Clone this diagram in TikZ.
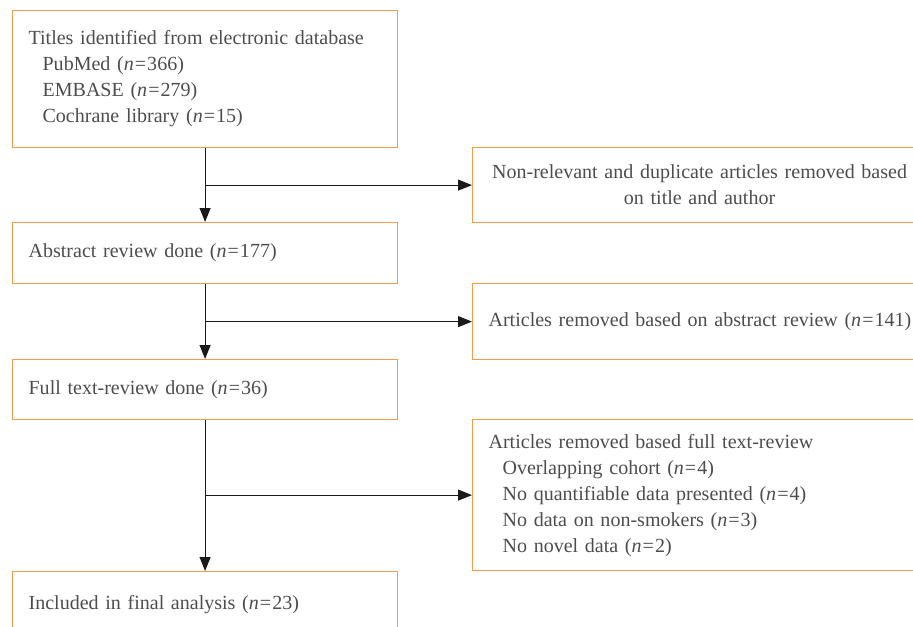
\documentclass[tikz,border=0pt]{standalone}
\usepackage{fontspec}
\setmainfont{Liberation Serif}
\usepackage{tikz}
\usepackage{xcolor}
\usetikzlibrary{arrows.meta,positioning,calc}
\definecolor{boxorange}{HTML}{F39C4E}
\definecolor{textgray}{HTML}{4D4D4D}
\definecolor{ink}{HTML}{1A1A1A}
\newcommand{\nn}[1]{(\textit{n}\kern0.6pt=\kern0.6pt#1)}
\newcommand{\sub}{\hspace*{0.28cm}}
\tikzset{
  flowcard/.style={
    draw=boxorange, line width=0.7pt, rectangle, anchor=north west,
    inner xsep=0.32cm, inner ysep=0pt, align=left, text=textgray,
    font=\fontsize{11.4}{14.8}\selectfont
  },
  leftcard/.style={flowcard, text width=7.06cm},
  sidecard/.style={flowcard, text width=9.4cm},
  flowarrow/.style={draw=ink, line width=0.55pt, -{Triangle[length=0.28cm,width=0.22cm]}}
}

\begin{document}
\begin{tikzpicture}[x=0.02cm,y=-0.02cm]
  \useasboundingbox (0,0) rectangle (913,626);
  \clip (0,0) rectangle (913,626);
  % main column
  \node[leftcard, minimum height=2.74cm] (titles) at (12,10) {%
    Titles identified from electronic database\\
    \sub PubMed \nn{366}\\
    \sub EMBASE \nn{279}\\
    \sub Cochrane library \nn{15}};
  \node[leftcard, minimum height=1.22cm] (abstract) at (12,222) {Abstract review done \nn{177}};
  \node[leftcard, minimum height=1.20cm] (fulltext) at (12,359) {Full text-review done \nn{36}};
  \node[leftcard, minimum height=1.30cm] (final) at (12,571) {Included in final analysis \nn{23}};
  % exclusions
  \node[flowcard, text width=8.44cm, align=center, minimum height=1.50cm] (dup) at (472,147) {%
    Non-relevant and duplicate articles removed based\\
    on title and author};
  \node[sidecard, minimum height=1.52cm] (absout) at (472,283) {Articles removed based on abstract review \nn{141}};
  \node[sidecard, minimum height=3.02cm] (fullout) at (472,419) {%
    Articles removed based full text-review\\
    \sub Overlapping cohort \nn{4}\\
    \sub No quantifiable data presented \nn{4}\\
    \sub No data on non-smokers \nn{3}\\
    \sub No novel data \nn{2}};
  % connectors
  \draw[flowarrow] (titles) -- (abstract);
  \draw[flowarrow] (abstract) -- (fulltext);
  \draw[flowarrow] (fulltext) -- (final);
  \draw[flowarrow] (titles.south |- dup.west) -- (dup.west);
  \draw[flowarrow] (abstract.south |- absout.west) -- (absout.west);
  \draw[flowarrow] (fulltext.south |- fullout.west) -- (fullout.west);
\end{tikzpicture}
\end{document}
